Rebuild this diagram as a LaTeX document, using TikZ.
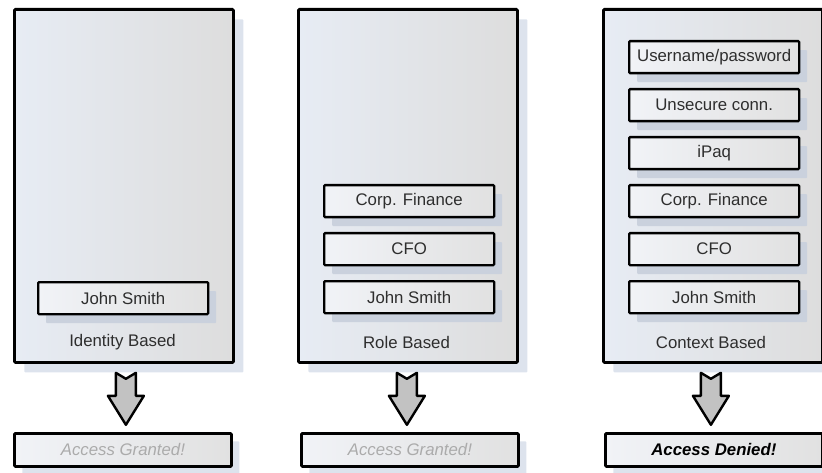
\documentclass[tikz,border=0pt]{standalone}
\usepackage{fontspec}
\setmainfont{Liberation Sans}
\usetikzlibrary{shadows,calc}
\definecolor{pl}{HTML}{E7ECF4}
\definecolor{pr}{HTML}{DDDDDD}
\definecolor{shd}{HTML}{DDE3ED}
\definecolor{ishd}{HTML}{CAD1DD}
\definecolor{bl}{HTML}{F1F3F7}
\definecolor{br}{HTML}{E1E1E1}
\definecolor{txt}{HTML}{2E2E2E}
\definecolor{afill}{HTML}{C2C2C2}
\definecolor{grant}{HTML}{ABABAB}
\begin{document}
\begin{tikzpicture}[x=1pt,y=-1pt,
  every node/.style={font=\fontsize{16.8}{19}\selectfont, text=txt},
  panel/.style={draw=black, line width=2.8pt, rounded corners=1pt,
    left color=pl, right color=pr, anchor=north west, inner sep=0pt,
    minimum width=219pt, minimum height=353pt,
    drop shadow={shadow xshift=10pt, shadow yshift=-10pt, fill=shd, opacity=1}},
  item/.style={draw=black, line width=2.3pt, rounded corners=1pt,
    left color=bl, right color=br, anchor=north west, inner sep=0pt,
    minimum width=170pt, minimum height=32pt,
    drop shadow={shadow xshift=8pt, shadow yshift=-9pt, fill=ishd, opacity=1}},
  result/.style={draw=black, line width=2.8pt, rounded corners=1pt,
    left color=bl, right color=br, anchor=north west, inner sep=0pt,
    minimum width=217pt, minimum height=33pt,
    drop shadow={shadow xshift=8pt, shadow yshift=-8pt, fill=shd, opacity=1}},
  caption/.style={anchor=center},
  barrow/.style={draw=black, line width=2.4pt, fill=afill, line join=round},
  downarrow/.pic={\draw[barrow] (-10,0) -- (0,6) -- (10,0) -- (10,23) -- (18,23)
      -- (0,52) -- (-18,23) -- (-10,23) -- cycle;}
]
\useasboundingbox (0,0) rectangle (822,473);

% panels
\node[panel] (p1) at (13,8) {};
\node[panel] (p2) at (297,8) {};
\node[panel] (p3) at (602,8) {};

% panel 1
\node[item] (p1js) at (37,281) {John Smith};
\node[caption] (c1) at (122.5,342) {Identity Based};

% panel 2
\node[item] (p2cf) at (323,184) {Corp. Finance};
\node[item] (p2cfo) at (323,232) {CFO};
\node[item] (p2js) at (323,280) {John Smith};
\node[caption] (c2) at (406.5,342) {Role Based};

% panel 3
\node[item] (p3up) at (628,40) {Username/password};
\node[item] (p3uc) at (628,88) {Unsecure conn.};
\node[item] (p3ip) at (628,136) {iPaq};
\node[item] (p3cf) at (628,184) {Corp. Finance};
\node[item] (p3cfo) at (628,232) {CFO};
\node[item] (p3js) at (628,280) {John Smith};
\node[caption] (c3) at (711,342) {Context Based};

% results
\node[result, text=grant, font=\fontsize{16.8}{19}\selectfont\itshape] (r1) at (13,432) {Access Granted!};
\node[result, text=grant, font=\fontsize{16.8}{19}\selectfont\itshape] (r2) at (300,432) {Access Granted!};
\node[result, text=black, font=\fontsize{16.8}{19}\selectfont\bfseries\itshape] (r3) at (604,432) {Access Denied!};

% arrows
\coordinate (a1) at ($(p1.south)+(2,9)$);
\coordinate (a2) at ($(p2.south)+(-1,9)$);
\coordinate (a3) at ($(p3.south)+(-2,9)$);
\pic at (a1) {downarrow};
\pic at (a2) {downarrow};
\pic at (a3) {downarrow};
\end{tikzpicture}
\end{document}
